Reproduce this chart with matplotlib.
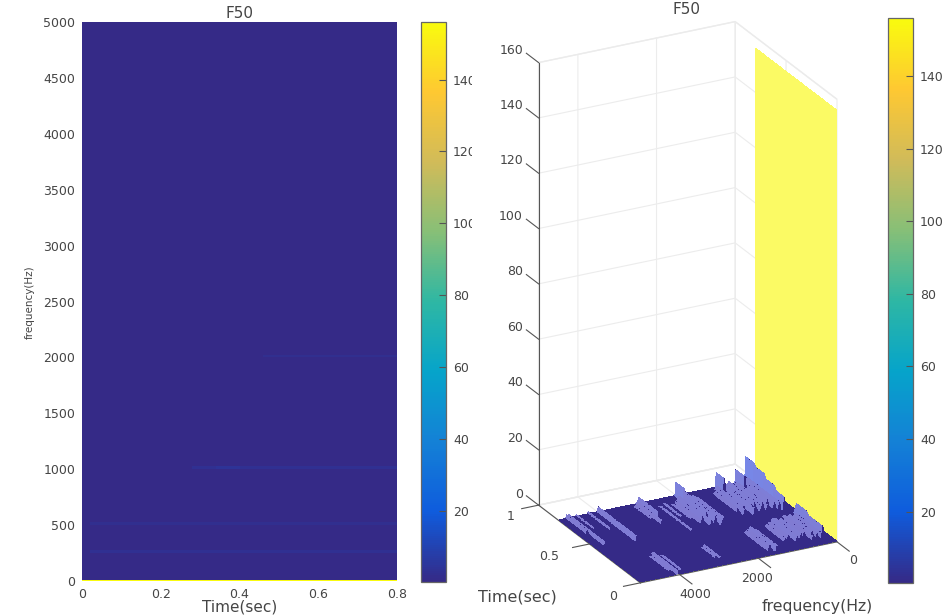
import numpy as np
import matplotlib
matplotlib.use("Agg")
import matplotlib.pyplot as plt
from matplotlib.colors import LinearSegmentedColormap
from matplotlib.transforms import Bbox

plt.rcParams['font.family'] = 'DejaVu Sans'
text_col = '#454545'

# parula colours
parula_stops = ['#352A87', '#0F5CDD', '#1481D6', '#06A4CA', '#2EB7A4',
                '#87BF77', '#D1BB59', '#FEC832', '#F9FB0E']
clim = (0.3, 156)

times = np.linspace(0, 0.8, 41)
freqs = np.r_[0, 8, np.arange(25, 5001, 25)]

wall_z = 156

# surface ridges: frequency, time start, time end, height
ridge_freq = [250, 250, 250, 250, 500, 1000, 2025, 2975, 4000, 4750,
              325, 400, 475, 575, 650, 725, 800, 875, 950, 1075, 1150, 1225,
              1725, 1800, 1875, 1950, 2025, 2100, 2175, 2250, 2350, 2500,
              100, 100, 225, 300, 375, 450, 525, 650, 725, 800, 925, 1050, 1400, 1475, 1550, 1625,
              2800, 2875, 3050, 3150, 3900, 4050, 4150, 4250, 4550, 4800, 2650]
ridge_t0 = [0.70, 0.60, 0.50, 0.42, 0.70, 0.72, 0.70, 0.60, 0.42, 0.44,
            0.44, 0.46, 0.50, 0.46, 0.48, 0.46, 0.50, 0.50, 0.44, 0.50, 0.46, 0.50,
            0.44, 0.42, 0.40, 0.44, 0.50, 0.42, 0.48, 0.46, 0.52, 0.56,
            0.24, 0.10, 0.05, 0.08, 0.10, 0.06, 0.12, 0.10, 0.08, 0.08, 0.12, 0.10, 0.04, 0.02, 0.06, 0.04,
            0.05, 0.08, 0.54, 0.60, 0.02, 0.00, 0.04, 0.58, 0.62, 0.60, 0.40]
ridge_t1 = [0.80, 0.70, 0.60, 0.50, 0.80, 0.80, 0.80, 0.80, 0.80, 0.80,
            0.76, 0.78, 0.70, 0.74, 0.74, 0.78, 0.74, 0.74, 0.72, 0.76, 0.72, 0.72,
            0.70, 0.72, 0.78, 0.80, 0.70, 0.74, 0.72, 0.70, 0.70, 0.72,
            0.36, 0.24, 0.33, 0.30, 0.32, 0.34, 0.30, 0.30, 0.32, 0.32, 0.30, 0.28, 0.26, 0.28, 0.24, 0.26,
            0.23, 0.20, 0.78, 0.76, 0.20, 0.24, 0.22, 0.80, 0.80, 0.80, 0.70]
ridge_z = [9, 8, 6.5, 5, 5, 5.5, 5, 2.5, 2, 1.5,
           3, 2.5, 2.5, 2, 2.5, 2, 2.5, 2, 2.5, 2, 2, 1.5,
           1.5, 2, 2, 2.5, 2.5, 2, 2, 1.5, 1, 1,
           4, 3, 2, 1.5, 2, 1.5, 1.5, 2, 1.5, 2, 1.5, 1.5, 1.5, 2, 1.5, 1.5,
           1, 1, 1.5, 1, 1, 1.5, 1, 1, 0.8, 1.5, 1]

# faint bands in the left image
band_freq = [250, 500, 1000, 1000, 2000]
band_t0 = [0.02, 0.02, 0.28, 0.34, 0.45]
band_t1 = [0.78, 0.78, 0.78, 0.38, 0.80]
band_z = [3, 2.5, 3, 4.5, 2.5]

xticks_left = [0, 0.2, 0.4, 0.6, 0.8]
xlabels_left = ['0', '0.2', '0.4', '0.6', '0.8']
yticks_left = list(range(0, 5001, 500))
zticks = list(range(0, 161, 20))
freq_ticks = [0, 2000, 4000]
freq_labels = ['0', '2000', '4000']
time_ticks = [0, 0.5, 1]
time_labels = ['0', '0.5', '1']
cbar_ticks = [20, 40, 60, 80, 100, 120, 140]

parula = LinearSegmentedColormap.from_list('parula', parula_stops, N=256)

Z = np.zeros((len(freqs), len(times))) + 0.3
for f, t0, t1, h in zip(ridge_freq, ridge_t0, ridge_t1, ridge_z):
    row = np.argmin(np.abs(freqs - f))
    Z[row, (times >= t0 - 1e-9) & (times <= t1 + 1e-9)] = h

Z_left = np.zeros_like(Z) + 0.3
for f, t0, t1, h in zip(band_freq, band_t0, band_t1, band_z):
    row = np.argmin(np.abs(freqs - f))
    Z_left[row, (times >= t0 - 1e-9) & (times <= t1 + 1e-9)] = h
Z_left[0, :] = wall_z

W, H = 945, 616
fig = plt.figure(figsize=(W / 100, H / 100), dpi=100)


def rect(x0, y0, x1, y1):
    # pixel box from the top left -> figure fractions
    return [x0 / W, 1 - y1 / H, (x1 - x0) / W, (y1 - y0) / H]


def px_text(x, y, s, size=9, ha='center', **kw):
    fig.text(x / W, 1 - y / H, s, fontsize=size, color=text_col, ha=ha, va='center', **kw)


def make_cbar(mesh, box, clip_x=None):
    cax = fig.add_axes(rect(*box))
    cb = fig.colorbar(mesh, cax=cax)
    cb.set_ticks(cbar_ticks)
    cax.tick_params(direction='in', length=5, width=0.8, color='#555555',
                    labelsize=9, labelcolor=text_col, pad=5)
    cb.outline.set_edgecolor('#666666')
    cb.outline.set_linewidth(0.9)
    if clip_x:
        for lab in cax.get_yticklabels():
            lab.set_clip_box(Bbox.from_extents(0, 0, clip_x, H))
            lab.set_clip_on(True)
    return cb


# left panel
ax1 = fig.add_axes(rect(82, 22, 397, 581))
mesh = ax1.pcolormesh(times, freqs, Z_left[:-1, :-1], cmap=parula, vmin=clim[0], vmax=clim[1],
                      shading='flat')
ax1.set_xlim(0, 0.8)
ax1.set_ylim(0, 5000)
ax1.set_xticks(xticks_left, xlabels_left)
ax1.set_yticks(yticks_left)
ax1.tick_params(length=0, labelsize=9, labelcolor=text_col, pad=5)
for s in ax1.spines.values():
    s.set_visible(False)
px_text(240, 13, 'F50', 11)
px_text(240, 607, 'Time(sec)', 11)
px_text(30, 302, 'frequency(Hz)', 7.5, rotation=90)
make_cbar(mesh, (421, 22, 446, 582), clip_x=472)

# right panel, the 3D view
S = 558
cx, cy = 687.5, 302.5
ax2 = fig.add_axes([(cx - 0.513 * S) / W, (H - cy - 0.513 * S) / H, S / W, S / H],
                   projection='3d', proj_type='ortho', computed_zorder=False)
ax2.view_init(elev=23.5, azim=-117.6)
ax2.set_box_aspect((222, 220, 483))
ax2.patch.set_visible(False)
ax2.set_xlim(5000, 0, view_margin=0)
ax2.set_ylim(0, 1, view_margin=0)
ax2.set_zlim(0, 160, view_margin=0)

# yellow wall at f = 0, drawn first so the ridges stay in front of it
F, T = np.meshgrid(freqs, times, indexing='ij')
wall = np.zeros((2, len(times))) + 0.3
wall[0, :] = wall_z
wall_col = parula(1.0)
ax2.plot_surface(F[:2], T[:2], wall, color=(0.6 * wall_col[0] + 0.4, 0.6 * wall_col[1] + 0.39, 0.6 * wall_col[2] + 0.36),
                 shade=False, linewidth=0, antialiased=False, rstride=1, cstride=1, zorder=1)

# the side of a ridge that faces the viewer is lit
face_cols = np.tile(parula(0.0), (len(freqs), len(times), 1))
for i in range(1, len(freqs) - 1):
    for j in range(len(times) - 1):
        if Z[i, j] - Z[i + 1, j] > 0.2:
            c = parula((Z[i, j] - clim[0]) / (clim[1] - clim[0]))
            face_cols[i, j] = (0.6 * c[0] + 0.38, 0.6 * c[1] + 0.38, 0.6 * c[2] + 0.50, 1)
ax2.plot_surface(F[1:], T[1:], Z[1:], facecolors=face_cols[1:], rstride=1, cstride=1, shade=False,
                 linewidth=0, antialiased=False, zorder=2)

ax2.set_xticks(freq_ticks)
ax2.set_yticks(time_ticks)
ax2.set_zticks(zticks)
ax2.set_xticklabels([])
ax2.set_yticklabels([])
ax2.set_zticklabels([])
for axis in (ax2.xaxis, ax2.yaxis, ax2.zaxis):
    axis.set_pane_color((1, 1, 1, 1))
    axis.pane.set_edgecolor('#ebebeb')
    axis.line.set_color('#555555')
    axis.line.set_linewidth(0.8)
    axis._axinfo['grid'].update(color='#ececec', linewidth=0.8)
    axis._axinfo['tick'].update(inward_factor=0, outward_factor=0)

# tick marks follow the box edges like the original, mplot3d only gives its own direction
tick_kw = dict(color='#555555', linewidth=0.8, zorder=3)
for v in zticks:
    ax2.plot([5000, 5000], [1, 1.12], [v, v], **tick_kw)
for v in freq_ticks:
    ax2.plot([v, v], [0, -0.12], [0, 0], **tick_kw)
for v in time_ticks:
    ax2.plot([5000, 5430], [v, v], [0, 0], **tick_kw)

# 3D tick labels sit further out than mplot3d can place them
for v in zticks:
    px_text(523, 494 - v * 2.775, str(v), ha='right')
for lab, x, y in zip(freq_labels, (853, 757, 695), (561, 578, 594)):
    px_text(x, y, lab)
for lab, x, y in zip(time_labels, (613, 549, 511), (596, 556, 517)):
    px_text(x, y, lab)
px_text(687, 9, 'F50', 11)
px_text(517, 597, 'Time(sec)', 11.5)
px_text(817, 607, 'frequency(Hz)', 11.3)
make_cbar(mesh, (888, 18, 913, 583))

fig.savefig('out.png', dpi=100)
